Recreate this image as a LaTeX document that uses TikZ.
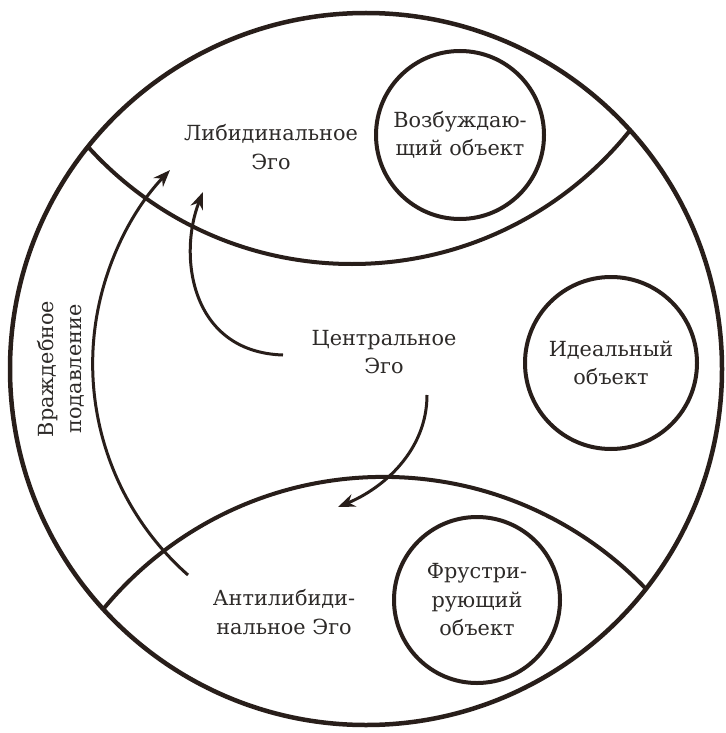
\documentclass[tikz,border=0pt]{standalone}
\usepackage{fontspec}
\newfontfamily\lblfont{DejaVu Serif}
\usetikzlibrary{arrows.meta}
\definecolor{ink}{RGB}{40,30,26}
\definecolor{txt}{RGB}{45,42,40}
\tikzset{
  lbl/.style={align=center, text=txt, inner sep=0pt, font=\fontsize{20.8}{28.5}\selectfont\lblfont},
  obj/.style={circle, draw=ink, line width=4pt, inner sep=0pt, align=center, text=txt, font=\fontsize{20.8}{28.5}\selectfont\lblfont},
  lens/.style={draw=ink, line width=4pt},
  arr/.style={draw=ink, line width=3pt, -{Stealth[length=17pt, width=13pt]}}
}
\begin{document}
\begin{tikzpicture}[x=1pt, y=-1pt]
\useasboundingbox (0,0) rectangle (725,733);
\fill[white] (0,0) rectangle (725,733);
% lens arcs, clipped to the outer circle
\begin{scope}
  \clip (366,369) circle[radius=356];
  \draw[lens] (352,-92) circle[radius=356];
  \draw[lens] (383.6,840.2) circle[radius=363.3];
\end{scope}
% outer circle
\node[circle, draw=ink, line width=4.5pt, minimum size=712pt, inner sep=0pt] (outer) at (366,369) {};
% object circles
\node[obj, minimum size=168pt] (exc) at (460,135) {Возбуждаю-\\щий объект};
\node[obj, minimum size=172pt] (ideal) at (611,363) {Идеальный\\объект};
\node[obj, minimum size=166pt] (frus) at (477,600) {Фрустри-\\рующий\\объект};
% labels
\node[lbl] (lib) at (271,147) {Либидинальное\\Эго};
\node[lbl] (cen) at (384,352) {Центральное\\Эго};
\node[lbl] (anti) at (284,612) {Антилибиди-\\нальное Эго};
\node[lbl, rotate=90] (host) at (61,369) {Враждебное\\подавление};
% arrows
\coordinate (a1s) at (188,575);
\coordinate (a2s) at (283,355);
\coordinate (a2e) at (203,192);
\coordinate (a3s) at (427,395);
\coordinate (a3e) at (338,507);
\draw[arr] (a1s) arc[start angle=131.4, end angle=223.5, radius=281.5];
\draw[arr] (a2s) .. controls (190,352) and (178,255) .. (a2e);
\draw[arr] (a3s) .. controls (427,450) and (384,488) .. (a3e);
\end{tikzpicture}
\end{document}
